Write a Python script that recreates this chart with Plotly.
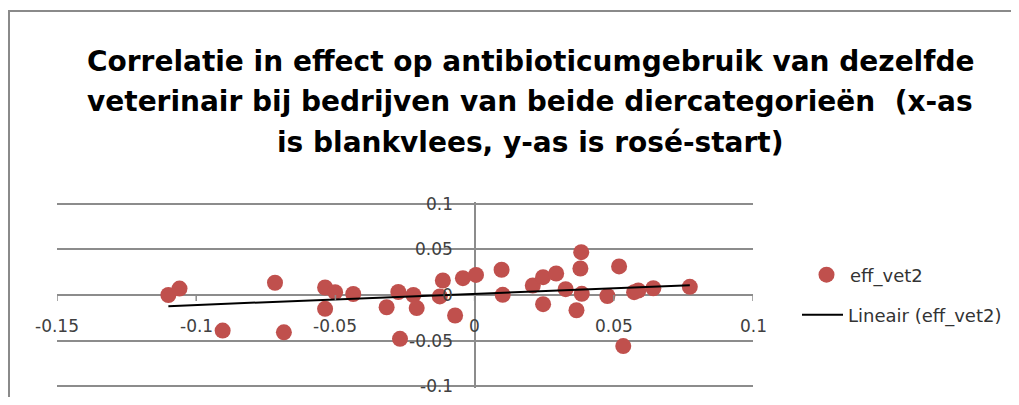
import numpy as np
import plotly.graph_objects as go

# ---- data ----
eff_x = [-0.110, -0.106, -0.0905, -0.0717, -0.0685, -0.0537, -0.0501, -0.0537,
         -0.0436, -0.0316, -0.0274, -0.0268, -0.0220, -0.0208, -0.0125, -0.0114,
         -0.0070, -0.0042, 0.0005, 0.0097, 0.0101, 0.0209, 0.0246, 0.0246,
         0.0293, 0.0327, 0.0366, 0.0383, 0.0380, 0.0385, 0.0477, 0.0519,
         0.0534, 0.0573, 0.0588, 0.0642, 0.0773]
eff_y = [0.000, 0.007, -0.039, 0.0134, -0.0409, 0.0082, 0.0031, -0.0152,
         0.0011, -0.0134, 0.0033, -0.0481, 0.0000, -0.0143, -0.0016, 0.0159,
         -0.0225, 0.0185, 0.0220, 0.0277, 0.0002, 0.0104, 0.0196, -0.0101,
         0.0236, 0.0064, -0.0167, 0.0470, 0.0291, 0.0013, -0.0011, 0.0313,
         -0.0560, 0.0031, 0.0049, 0.0074, 0.0090]

x_ticks = [-0.15, -0.1, -0.05, 0, 0.05, 0.1]
x_tick_labels = ["-0.15", "-0.1", "-0.05", "0", "0.05", "0.1"]
y_ticks = [-0.1, -0.05, 0, 0.05, 0.1]
y_tick_labels = ["-0.1", "-0.05", "0", "0.05", "0.1"]

title_lines = [
    "Correlatie in effect op antibioticumgebruik van dezelfde",
    "veterinair bij bedrijven van beide diercategorieën  (x-as",
    "is blankvlees, y-as is rosé-start)",
]
series_name = "eff_vet2"
trend_name = "Lineair (eff_vet2)"

# ---- layout geometry ----
# the page body has an 8px margin, so the figure starts at page (8, 8)
OFF = 8
W, H = 1011, 389
L, T = 57 - OFF, 204 - OFF - 2
R = W - (753 - OFF)
B = H - (386 - OFF + 2)
PW, PH = W - L - R, H - T - B
X_RANGE = [-0.15, 0.1]
Y_RANGE = [-0.102, 0.102]


def fx(px_page):
    return (px_page - OFF - L) / PW


def fy(py_page):
    return (H - B - (py_page - OFF)) / PH


# linear trend line (least squares, like Excel's "Lineair")
slope, intercept = np.polyfit(eff_x, eff_y, 1)
tx = [min(eff_x), max(eff_x)]
ty = [slope * v + intercept for v in tx]

grid_col = "#8c8c8c"
label_col = "#404040"
font_fam = "DejaVu Sans, Verdana, sans-serif"

fig = go.Figure()
fig.add_trace(go.Scatter(
    x=eff_x, y=eff_y, mode="markers", name=series_name,
    marker=dict(color="#c0504d", size=16, line=dict(width=0)),
    legend="legend",
))
fig.add_trace(go.Scatter(
    x=tx, y=ty, mode="lines", name=trend_name,
    line=dict(color="#000000", width=2),
    legend="legend2",
))

annotations = []
for i, line in enumerate(title_lines):
    annotations.append(dict(
        text=line, x=fx(530), y=fy(61 + 40.5 * i),
        xref="paper", yref="paper", xanchor="center", yanchor="middle",
        showarrow=False,
        font=dict(family=font_fam, size=28, color="#000000", weight="bold"),
    ))
for v, t in zip(x_ticks, x_tick_labels):
    annotations.append(dict(
        text=t, x=v, y=0, xref="x", yref="y", xanchor="center",
        yanchor="middle", yshift=-31, showarrow=False,
        font=dict(family=font_fam, size=17, color=label_col),
    ))
for v, t in zip(y_ticks, y_tick_labels):
    annotations.append(dict(
        text=t, x=0, y=v, xref="x", yref="y", xanchor="right",
        yanchor="middle", xshift=-20, showarrow=False,
        font=dict(family=font_fam, size=17, color=label_col),
    ))

shapes = [
    # chart border (left / top visible)
    dict(type="rect", xref="paper", yref="paper",
         x0=fx(9), x1=fx(1100), y0=fy(500), y1=fy(11),
         line=dict(color="#8a8a8a", width=2), layer="below"),
]
for v in x_ticks:
    shapes.append(dict(type="line", xref="x", yref="y", x0=v, x1=v,
                       ysizemode="pixel", yanchor=0, y0=0, y1=-6,
                       line=dict(color=grid_col, width=1.5)))

fig.update_layout(
    width=W, height=H,
    margin=dict(l=L, r=R, t=T, b=B, pad=0, autoexpand=False),
    paper_bgcolor="white", plot_bgcolor="white",
    showlegend=True,
    annotations=annotations,
    shapes=shapes,
    xaxis=dict(range=X_RANGE, showgrid=False, showticklabels=False,
               zeroline=True, zerolinecolor=grid_col, zerolinewidth=1.5,
               showline=False, ticks=""),
    yaxis=dict(range=Y_RANGE, tickvals=y_ticks, showgrid=True,
               gridcolor=grid_col, gridwidth=1.5, showticklabels=False,
               zeroline=True, zerolinecolor=grid_col, zerolinewidth=1.5,
               showline=False, ticks=""),
    legend=dict(x=fx(803), y=fy(275), xanchor="left", yanchor="middle",
                bgcolor="rgba(0,0,0,0)", borderwidth=0, itemwidth=37,
                font=dict(family=font_fam, size=18, color="#333333")),
    legend2=dict(x=fx(797), y=fy(315), xanchor="left", yanchor="middle",
                 bgcolor="rgba(0,0,0,0)", borderwidth=0, itemwidth=41,
                 font=dict(family=font_fam, size=18, color="#333333")),
)

fig.write_html("out.html")
